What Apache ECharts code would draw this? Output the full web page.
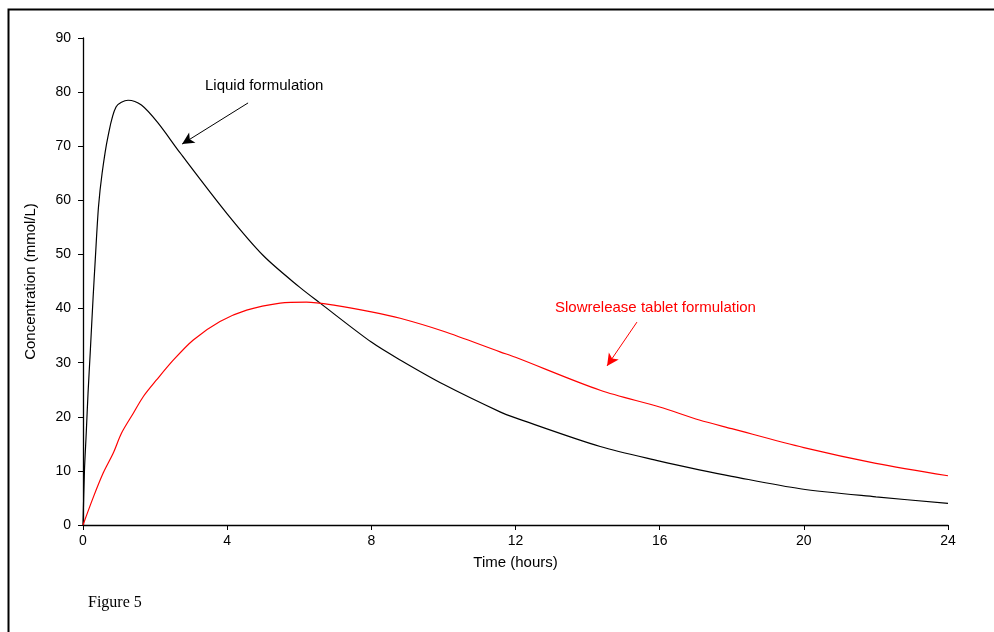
<!DOCTYPE html>
<html><head><meta charset="utf-8">
<script src="https://cdn.jsdelivr.net/npm/echarts@6/dist/echarts.min.js"></script>
<style>html,body{margin:0;padding:0;background:#fff}#c{width:994px;height:632px}</style>
</head><body><div id="c"></div>
<script>
const xTicks = [0, 4, 8, 12, 16, 20, 24];
const yTicks = [0, 10, 20, 30, 40, 50, 60, 70, 80, 90];
const liquidTime = [0, 0.04, 0.09, 0.14, 0.2, 0.28, 0.34, 0.43, 0.53, 0.69, 0.92, 1.25, 1.62, 2.08, 2.69, 4, 5, 6, 6.58, 8, 8.8, 10, 11.57, 12, 14.35, 16, 17.1, 18, 19.9, 22, 24];
const liquidConc = [0, 10, 17, 24.4, 31.8, 42, 49, 58.8, 65, 71.7, 77.3, 78.5, 77.6, 74.3, 68.8, 57.5, 49.8, 44, 41, 33.8, 30.5, 26, 20.9, 19.8, 14.5, 11.8, 10.2, 9, 6.7, 5.2, 4.0];
const slowTime = [0, 0.29, 0.56, 0.84, 1.07, 1.4, 1.67, 2.04, 2.51, 3.06, 3.8, 4.54, 5.47, 6.2, 7, 8, 8.8, 10, 11.57, 12, 14.35, 16, 17.1, 18, 20, 22, 24];
const slowConc = [0, 5.2, 9.6, 13.3, 17, 20.7, 23.7, 26.8, 30.5, 34.2, 37.6, 39.7, 41, 41.2, 40.6, 39.4, 38.2, 35.8, 32, 31, 24.9, 21.8, 19.4, 17.8, 14.3, 11.4, 9.1];
const liquidArrow = [[4.58, 78.0], [2.75, 70.4]];
const slowArrow = [[15.37, 37.5], [14.54, 29.4]];

const chart = echarts.init(document.getElementById('c'));
const labelFont = {fontFamily: 'Liberation Sans, Arial', fontSize: 14, color: '#000'};
const titleFont = {fontFamily: 'Liberation Sans, Arial', fontSize: 15, color: '#000'};
chart.setOption({
  animation: false,
  backgroundColor: '#fff',
  grid: {left: 83, right: 46, top: 38, bottom: 107},
  xAxis: {
    type: 'value', min: xTicks[0], max: xTicks[xTicks.length - 1], interval: 4,
    name: 'Time (hours)', nameLocation: 'middle', nameGap: 30,
    nameTextStyle: titleFont,
    axisLine: {show: true, lineStyle: {color: '#000', width: 1.3}},
    axisTick: {show: true, inside: false, length: 5, lineStyle: {color: '#000'}},
    axisLabel: Object.assign({margin: 9}, labelFont),
    splitLine: {show: false}
  },
  yAxis: {
    type: 'value', min: yTicks[0], max: yTicks[yTicks.length - 1], interval: 10,
    name: 'Concentration (mmol/L)', nameLocation: 'middle', nameGap: 45,
    nameTextStyle: titleFont,
    axisLine: {show: true, lineStyle: {color: '#000', width: 1.3}},
    axisTick: {show: true, inside: false, length: 5, lineStyle: {color: '#000'}},
    axisLabel: Object.assign({margin: 12}, labelFont),
    splitLine: {show: false}
  },
  series: [
    {
      type: 'line', name: 'Liquid formulation', smooth: 0.3, symbol: 'none',
      data: liquidTime.map((t, i) => [t, liquidConc[i]]),
      lineStyle: {color: '#000', width: 1.2},
      markLine: {
        silent: true, symbol: ['none', 'arrow'], symbolSize: [9, 12],
        label: {show: false},
        lineStyle: {color: '#000', type: 'solid', width: 1},
        data: [[{coord: liquidArrow[0]}, {coord: liquidArrow[1]}]]
      }
    },
    {
      type: 'line', name: 'Slowrelease tablet formulation', smooth: 0.3, symbol: 'none',
      data: slowTime.map((t, i) => [t, slowConc[i]]),
      lineStyle: {color: '#ff0000', width: 1.2},
      markLine: {
        silent: true, symbol: ['none', 'arrow'], symbolSize: [9, 12],
        label: {show: false},
        lineStyle: {color: '#ff0000', type: 'solid', width: 1},
        data: [[{coord: slowArrow[0]}, {coord: slowArrow[1]}]]
      }
    }
  ],
  graphic: [
    {type: 'rect', left: 6, top: 7, shape: {width: 1300, height: 900},
     style: {fill: 'none', stroke: '#000', lineWidth: 2}},
    {type: 'text', left: 205, top: 78,
     style: {text: 'Liquid formulation', font: '15px "Liberation Sans", Arial', fill: '#000'}},
    {type: 'text', left: 555, top: 300,
     style: {text: 'Slowrelease tablet formulation', font: '15px "Liberation Sans", Arial', fill: '#ff0000'}},
    {type: 'text', left: 88, top: 595,
     style: {text: 'Figure 5', font: '16px "Liberation Serif", "Times New Roman"', fill: '#000'}}
  ]
});
</script></body></html>
